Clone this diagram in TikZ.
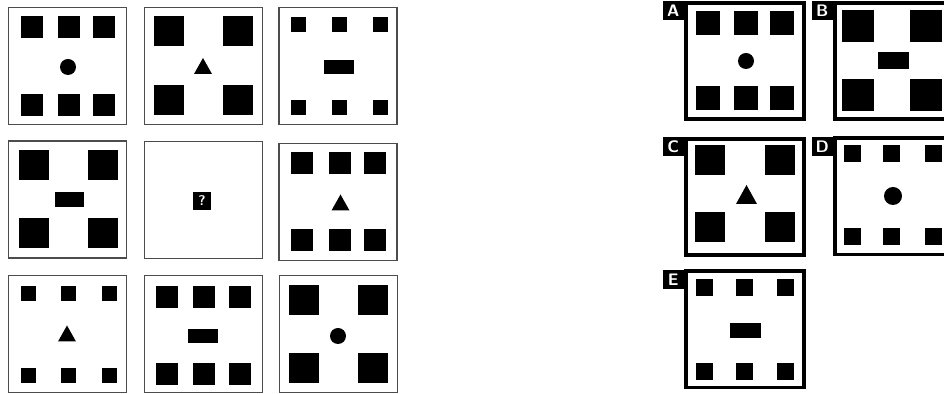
\documentclass[tikz,border=0pt]{standalone}
\usetikzlibrary{calc}
\tikzset{
  mxfig/.style={fill=black},
  mxpanel/.style={draw=black!70, line width=0.8pt, minimum width=2.36cm,
    minimum height=2.34cm, inner sep=0pt},
  mxans/.style={draw=black, line width=2pt, minimum width=2.37cm,
    minimum height=2.33cm, inner sep=0pt},
  mxtab/.style={fill=black, text=white, inner sep=0pt,
    font=\sffamily\bfseries\fontsize{9.5}{10}\selectfont,
    minimum width=0.42cm, minimum height=0.38cm},
  mxquery/.style={fill=black, text=white, inner sep=0pt,
    font=\sffamily\bfseries\fontsize{8}{8}\selectfont, minimum size=0.36cm},
}
% squares: side, x offsets, y offsets
\newcommand{\mxsquares}[3]{%
  \foreach \dx in {#2} \foreach \dy in {#3}
    \fill[mxfig] (\dx-#1/2,\dy-#1/2) rectangle ++(#1,#1);}
% bar: x, y, width, height
\newcommand{\mxbar}[4]{\fill[mxfig] (#1-#3/2,#2-#4/2) rectangle ++(#3,#4);}
% triangle: x, y, width, height
\newcommand{\mxtri}[4]{\fill[mxfig] (#1-#3/2,#2+#4/2) -- (#1+#3/2,#2+#4/2) -- (#1,#2-#4/2) -- cycle;}
% dot: x, y, radius
\newcommand{\mxdot}[3]{\fill[mxfig] (#1,#2) circle[radius=#3];}

\begin{document}
\begin{tikzpicture}[x=0.02cm, y=-0.02cm]
  \useasboundingbox (0,0) rectangle (944,394);
  \clip (0,0) rectangle (944,394);

  % Matrix
  \node[mxpanel] (p11) at (67.5,66) {};
  \node[mxpanel] (p12) at (203.5,66) {};
  \node[mxpanel] (p13) at (338,66) {};
  \node[mxpanel] (p21) at (67.5,199.5) {};
  \node[mxpanel] (p22) at (203.5,200) {};
  \node[mxpanel] (p23) at (338,202) {};
  \node[mxpanel] (p31) at (67.5,334) {};
  \node[mxpanel] (p32) at (203.5,334) {};
  \node[mxpanel] (p33) at (338.5,334) {};

  \begin{scope}[shift={(p11.center)}]
    \mxsquares{22}{-35.5,1.5,36.5}{-38.5,39} \mxdot{0.5}{1}{8}
  \end{scope}
  \begin{scope}[shift={(p12.center)}]
    \mxsquares{30}{-34.5,34}{-34.5,34} \mxtri{-0.5}{0}{18}{16}
  \end{scope}
  \begin{scope}[shift={(p13.center)}]
    \mxsquares{15}{-40,1,42.5}{-41.5,41.5} \mxbar{1}{1}{30}{14}
  \end{scope}
  \begin{scope}[shift={(p21.center)}]
    \mxsquares{30}{-33.5,35}{-34,34} \mxbar{2}{0}{29}{15}
  \end{scope}
  \node[mxquery] (q) at (202,201) {?};
  \begin{scope}[shift={(p23.center)}]
    \mxsquares{22}{-36,1.5,37}{-39,38} \mxtri{2.5}{0.5}{18}{16}
  \end{scope}
  \begin{scope}[shift={(p31.center)}]
    \mxsquares{15}{-39.5,1,42}{-40.5,42} \mxtri{-0.5}{-0.5}{18}{16}
  \end{scope}
  \begin{scope}[shift={(p32.center)}]
    \mxsquares{22}{-36.5,0.5,36}{-37,40} \mxbar{-0.5}{2}{30}{14}
  \end{scope}
  \begin{scope}[shift={(p33.center)}]
    \mxsquares{30}{-34.5,34.5}{-34,34.5} \mxdot{-0.5}{2}{8}
  \end{scope}

  % Answers
  \node[mxans] (pA) at (745,61) {};
  \node[mxans] (pB) at (894,61) {};
  \node[mxans] (pC) at (745,197) {};
  \node[mxans] (pD) at (894,196.5) {};
  \node[mxans] (pE) at (745,329.5) {};

  \node[mxtab, anchor=north east] (tA) at (pA.north west) {A};
  \node[mxtab, anchor=north east] (tB) at (pB.north west) {B};
  \node[mxtab, anchor=north east] (tC) at (pC.north west) {C};
  \node[mxtab, anchor=north east] (tD) at (pD.north west) {D};
  \node[mxtab, anchor=north east] (tE) at (pE.north west) {E};

  \begin{scope}[shift={(pA.center)}]
    \mxsquares{24}{-37,1,37}{-38,37.5} \mxdot{1}{0}{8}
  \end{scope}
  \begin{scope}[shift={(pB.center)}]
    \mxsquares{32}{-36,32}{-34.5,34.5} \mxbar{-0.5}{-0.5}{31}{17}
  \end{scope}
  \begin{scope}[shift={(pC.center)}]
    \mxsquares{30}{-35.5,34.5}{-37,30} \mxtri{1.5}{-2.5}{21}{19}
  \end{scope}
  \begin{scope}[shift={(pD.center)}]
    \mxsquares{17}{-41.5,-2.5,39.5}{-43,40.5} \mxdot{-1}{-0.5}{9}
  \end{scope}
  \begin{scope}[shift={(pE.center)}]
    \mxsquares{17}{-40.5,-0.5,40.5}{-41.5,42} \mxbar{0.5}{1}{31}{15}
  \end{scope}
\end{tikzpicture}
\end{document}
